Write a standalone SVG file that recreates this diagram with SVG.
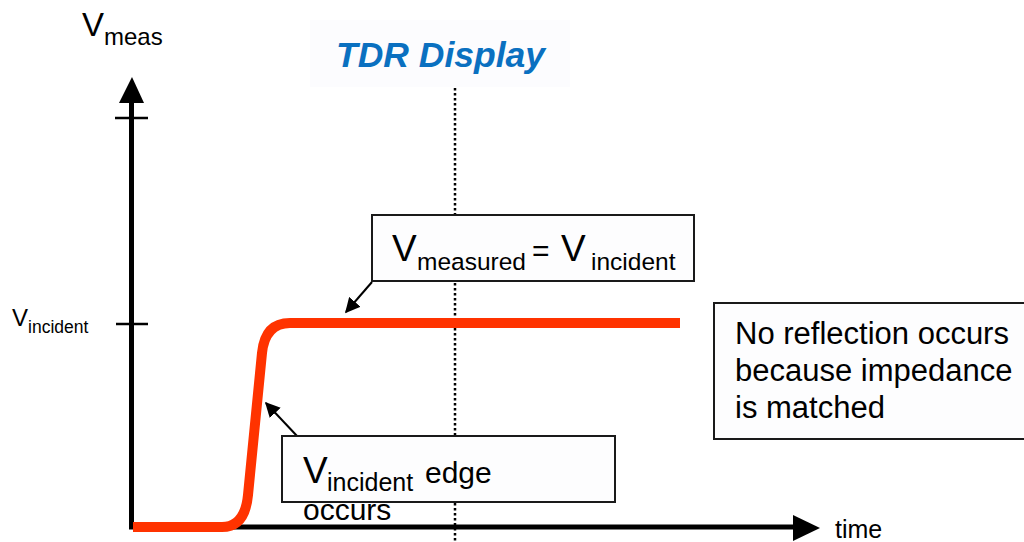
<svg xmlns="http://www.w3.org/2000/svg" width="1024" height="542" viewBox="0 0 1024 542">
  <defs>
    <style>
      .t { font-family: "Liberation Sans", Arial, sans-serif; fill: #000; }
      .box { fill: #fdfdfe; stroke: #1a1a1a; stroke-width: 2; }
      .axis { stroke: #000; stroke-width: 5; fill: none; }
      .tick { stroke: #000; stroke-width: 2.5; }
      .lead { stroke: #000; stroke-width: 2; fill: none; }
    </style>
    <marker id="ah" viewBox="0 0 10 10" refX="9" refY="5" markerWidth="7.5" markerHeight="7.5" orient="auto" markerUnits="strokeWidth">
      <path d="M0,0 L10,5 L0,10 z" fill="#000"/>
    </marker>
  </defs>
  <rect width="1024" height="542" fill="#ffffff"/>
  <rect x="310" y="20" width="260" height="67" fill="#fcfcfe"/>

  <g id="title">
    <text class="t" x="336" y="67" font-size="35.5" font-weight="bold" font-style="italic" style="fill:#0a70c0">TDR Display</text>
  </g>

  <g id="axes">
    <line class="axis" x1="131.5" y1="100" x2="131.5" y2="529"/>
    <polygon points="132,77 119,103 144,103" fill="#000"/>
    <line class="tick" x1="115" y1="118" x2="148" y2="118"/>
    <line class="tick" x1="116" y1="324" x2="148" y2="324"/>
    <line class="axis" x1="129" y1="527" x2="796" y2="527"/>
    <polygon points="820,528 793,515 793,541" fill="#000"/>
    <text class="t" x="82" y="36" font-size="33">V<tspan font-size="24" dy="9">meas</tspan></text>
    <text class="t" x="12" y="326" font-size="24">V<tspan font-size="17.5" dy="7">incident</tspan></text>
    <text class="t" x="835" y="538" font-size="25">time</text>
  </g>

  <g id="marker-line">
    <line x1="455" y1="88" x2="455" y2="542" stroke="#000" stroke-width="2.5" stroke-dasharray="2.5 2.5"/>
  </g>

  <g id="waveform">
    <path d="M133,527 L222,527 Q245,527 248,495 L262,353 Q265,323 290,323 L680,323" fill="none" stroke="#ff3300" stroke-width="10"/>
  </g>

  <g id="connectors">
    <line class="lead" x1="372" y1="282" x2="346" y2="312" marker-end="url(#ah)"/>
    <line class="lead" x1="297" y1="436" x2="266" y2="403" marker-end="url(#ah)"/>
  </g>

  <g id="box-measured">
    <rect class="box" x="372" y="215" width="322" height="66"/>
    <text class="t" x="392" y="261" font-size="37">V</text>
    <text class="t" x="417" y="270" font-size="24.5">measured</text>
    <text class="t" x="532" y="261" font-size="30">=</text>
    <text class="t" x="561" y="261" font-size="37">V</text>
    <text class="t" x="591" y="270" font-size="24.5">incident</text>
  </g>

  <g id="box-reflection">
    <rect class="box" x="714" y="303" width="320" height="136"/>
    <text class="t" x="735" y="344" font-size="31">No reflection occurs</text>
    <text class="t" x="735" y="381" font-size="31">because impedance</text>
    <text class="t" x="735" y="418" font-size="31">is matched</text>
  </g>

  <g id="box-edge">
    <rect class="box" x="282" y="436" width="333" height="66"/>
    <text class="t" x="303" y="483" font-size="37">V</text>
    <text class="t" x="327" y="491" font-size="25">incident</text>
    <text class="t" x="425" y="483" font-size="30">edge</text>
    <text class="t" x="303" y="520" font-size="30">occurs</text>
  </g>
</svg>
